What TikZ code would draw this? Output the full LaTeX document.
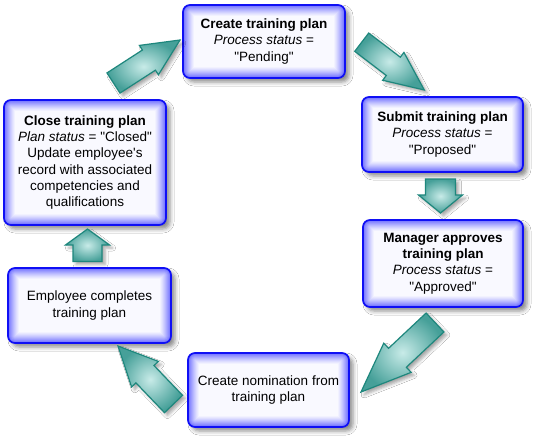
\documentclass[tikz,border=0pt]{standalone}
\usepackage{fontspec}
\newfontfamily\lsans{Liberation Sans}
\usetikzlibrary{calc,shadows.blur}
\definecolor{boxblue}{RGB}{15,15,245}
\definecolor{glowblue}{RGB}{50,50,255}
\definecolor{teallin}{RGB}{30,135,125}
\definecolor{tealout}{RGB}{70,160,153}
\definecolor{tealin}{RGB}{200,235,232}
\tikzset{
  boxtext/.style={align=center,inner sep=0pt,font=\lsans\fontsize{13.5}{16.2}\selectfont},
  boxborder/.style={draw=boxblue,line width=1.7pt},
  arrowstyle/.style={draw=teallin,line width=1.2pt,line join=miter,inner color=tealin,outer color=tealout,
    blur shadow={shadow xshift=3pt,shadow yshift=-3pt,shadow blur radius=3pt,shadow opacity=35}},
}
\newcommand{\glowbox}[6]{%
  \fill[white,rounded corners=7pt,blur shadow={shadow xshift=4pt,shadow yshift=-4pt,shadow blur radius=4pt,shadow opacity=45}] (#2,#3) rectangle (#4,#5);
  \foreach \i in {0,...,11}{%
    \pgfmathsetmacro\rr{max(7-\i*1.0,0.5)}%
    \pgfmathsetmacro\pct{70*(1-\i/12)^1.3}%
    \fill[glowblue!\pct!white,rounded corners=\rr pt] ($(#2,#3)+(\i*1.0,\i*1.0)$) rectangle ($(#4,#5)-(\i*1.0,\i*1.0)$);
  }
  \draw[boxborder,rounded corners=7pt] (#2,#3) rectangle (#4,#5);
  \node[boxtext] (#1) at ($(#2,#3)!0.5!(#4,#5)$) {#6};
}
\newcommand{\blockarrow}[5]{%
  \coordinate (#1b) at ($(#2)!#5pt!(#1)$);
  \shadedraw[arrowstyle] ($(#1)!#3pt!90:(#2)$) -- ($(#1b)!#3pt!90:(#2)$) -- ($(#1b)!#4pt!90:(#2)$) -- (#2)
    -- ($(#1b)!#4pt!-90:(#2)$) -- ($(#1b)!#3pt!-90:(#2)$) -- ($(#1)!#3pt!-90:(#2)$) -- cycle;
}
\begin{document}
\begin{tikzpicture}[x=1pt,y=-1pt]
\useasboundingbox (0,0) rectangle (534,440);
\fill[white] (0,0) rectangle (534,440);
% boxes
\glowbox{create}{183}{5}{345}{78}{\textbf{Create training plan}\\\textit{Process status} =\\"Pending"}
\glowbox{submit}{362}{97}{523}{172}{\textbf{Submit training plan}\\\textit{Process status} =\\"Proposed"}
\glowbox{approve}{363}{220}{523}{307}{\textbf{Manager approves}\\\textbf{training plan}\\\textit{Process status} =\\"Approved"}
\glowbox{nominate}{188}{353}{349}{427}{Create nomination from\\training plan}
\glowbox{complete}{8}{268}{171}{343}{Employee completes\\training plan}
\glowbox{close}{4}{100}{166}{225}{\textbf{Close training plan}\\\textit{Plan status} = "Closed"\\Update employee's\\record with associated\\competencies and\\qualifications}
% arrow end points
\coordinate (aT) at (113.5,83);  \coordinate (aH) at (180,40);
\coordinate (bT) at (361.7,42.2); \coordinate (bH) at (424.3,90);
\coordinate (cT) at (440.5,179); \coordinate (cH) at (440.5,213);
\coordinate (eT) at (435,322.5); \coordinate (eH) at (361,392);
\coordinate (fT) at (173.5,404); \coordinate (fH) at (118,346);
\coordinate (dT) at (87.5,261.5); \coordinate (dH) at (87.5,229);
\blockarrow{aT}{aH}{12}{17.5}{37}
\blockarrow{bT}{bH}{11.5}{17.5}{39}
\blockarrow{cT}{cH}{15}{22}{18}
\blockarrow{eT}{eH}{13}{20}{50}
\blockarrow{fT}{fH}{12.5}{18.5}{39}
\blockarrow{dT}{dH}{14.5}{22}{16}
\end{tikzpicture}
\end{document}
